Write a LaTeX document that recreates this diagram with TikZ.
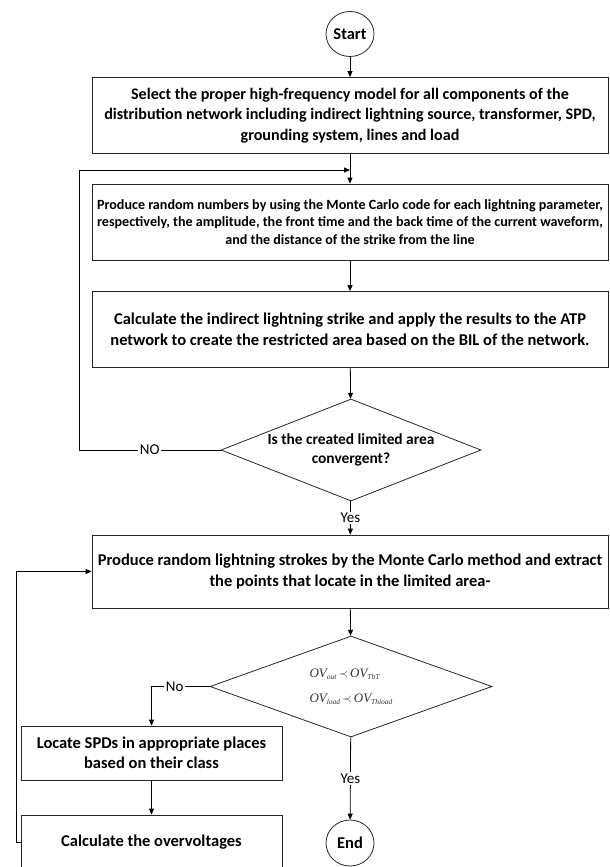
\documentclass[tikz,border=0pt]{standalone}
\usepackage{fontspec}
\setmainfont{Carlito}
\newfontfamily\tms{Liberation Serif}
\usetikzlibrary{shapes.geometric,arrows.meta}
\newcommand{\ovsub}[1]{\raisebox{-0.35ex}{\fontsize{7.5}{8}\selectfont #1}}
\begin{document}
\begin{tikzpicture}[x=1pt,y=-1pt,
  box/.style={draw=black!85, line width=0.8pt, rectangle, inner sep=0pt, align=center,
    minimum width=516pt, minimum height=76pt, font=\bfseries\fontsize{16.5}{20.7}\selectfont},
  sbox/.style={draw=black!85, line width=0.8pt, rectangle, inner sep=0pt, align=center,
    minimum width=261pt, minimum height=54pt, font=\bfseries\fontsize{16.5}{20.5}\selectfont},
  term/.style={draw=black!85, line width=0.8pt, ellipse, minimum width=48pt, minimum height=45pt, inner sep=0pt,
    font=\bfseries\fontsize{16.5}{18}\selectfont},
  dec/.style={draw=black!85, line width=0.8pt, diamond, inner sep=0pt},
  arr/.style={line width=0.8pt, -{Triangle[length=6pt,width=5pt]}},
  lbl/.style={fill=white, inner sep=1.5pt, font=\fontsize{15}{17}\selectfont}
]
\useasboundingbox (0,0) rectangle (610,867);

\node[term] (start) at (350,34) {Start};
\node[box, font=\bfseries\fontsize{16.1}{20.7}\selectfont] (b1) at (350,115.5) {Select the proper high-frequency model for all components of the\\
distribution network including indirect lightning source, transformer, SPD,\\
grounding system, lines and load};
\node[box, font=\bfseries\fontsize{14.1}{17.5}\selectfont] (b2) at (350,222) {Produce random numbers by using the Monte Carlo code for each lightning parameter,\\
respectively, the amplitude, the front time and the back time of the current waveform,\\
and the distance of the strike from the line};
\node[box] (b3) at (350,329.5) {Calculate the indirect lightning strike and apply the results to the ATP\\
network to create the restricted area based on the BIL of the network.};
\node[dec, minimum width=260pt, minimum height=102pt] (d1) at (351,450) {};
\node[align=center, font=\bfseries\fontsize{15.4}{18.5}\selectfont] (t1) at (d1.center) {Is the created limited area\\convergent?};
\node[box, minimum height=73pt] (b4) at (350,571.5) {Produce random lightning strokes by the Monte Carlo method and extract\\
the points that locate in the limited area-};
\node[dec, minimum width=282pt, minimum height=101pt] (d2) at (351,686.5) {};
\node[align=left, text=black!80, font=\tms\itshape\fontsize{13}{25}\selectfont] (t2) at (d2.center)
  {OV\ovsub{out}\,$\prec$\,OV\ovsub{TbT}\\
   OV\ovsub{load}\,$\prec$\,OV\ovsub{Thload}};
\node[sbox] (b5) at (151.5,753) {Locate SPDs in appropriate places\\based on their class};
\node[sbox] (b6) at (151.5,842) {Calculate the overvoltages};
\node[term, minimum height=46pt] (end) at (350,843) {End};

\coordinate (l1a) at (79,450);
\coordinate (l1b) at (79,170);
\coordinate (j1) at (350,170);
\coordinate (l2a) at (16,842);
\coordinate (l2b) at (16,571.5);

\draw[arr] (start) -- (b1);
\draw[arr] (b1) -- (b2);
\draw[arr] (d1.west) -- node[lbl, pos=0.5] {NO} (l1a) -- (l1b) -- (j1);
\draw[arr] (b2) -- (b3);
\draw[arr] (b3) -- (d1);
\draw[arr] (d1) -- node[lbl] {Yes} (b4);
\draw[arr] (b4) -- (d2);
\draw[arr] (d2.west) -- node[lbl, pos=0.6] {No} (d2.west -| b5.north) -- (b5.north);
\draw[arr] (b5) -- (b6);
\draw[arr] (d2) -- node[lbl] {Yes} (end);
\draw[arr] (b6.west) -- (l2a) -- (l2b) -- (b4.west);
\end{tikzpicture}
\end{document}
